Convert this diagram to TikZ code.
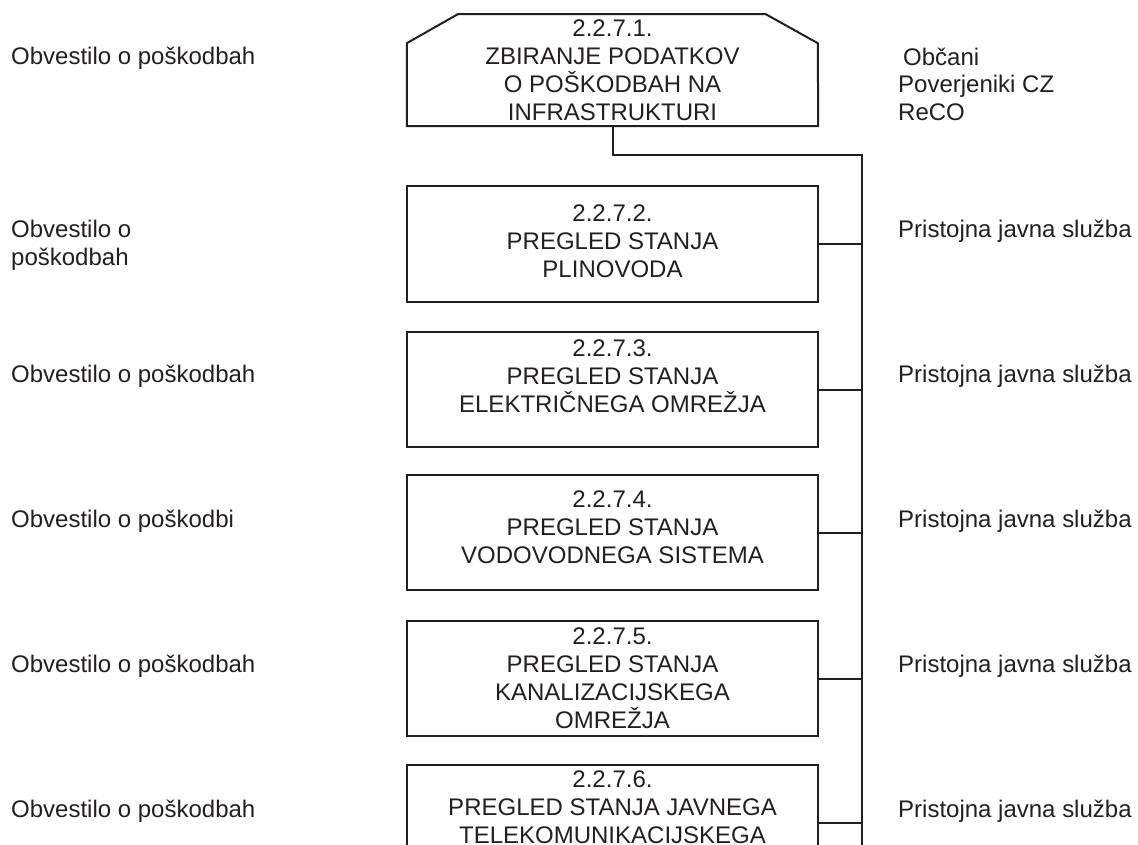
\documentclass[tikz,border=0pt]{standalone}
\usepackage{fontspec}
\setmainfont{Liberation Sans}
\definecolor{ink}{HTML}{231F20}
\begin{document}
\begin{tikzpicture}[x=1pt,y=-1pt,
  every node/.style={font=\fontsize{24}{27.8}\selectfont, text=ink},
  box/.style={draw=ink, line width=2pt, minimum width=411pt, minimum height=115pt, inner sep=0pt},
  shell/.style={minimum width=411pt, minimum height=112pt, inner sep=0pt},
  boxtext/.style={anchor=north, inner sep=0pt, align=center},
  lab/.style={anchor=base west, inner sep=0pt},
  lab2/.style={anchor=north west, inner sep=0pt, align=left},
  conn/.style={draw=ink, line width=2pt}]
\useasboundingbox (0,0) rectangle (1138,845);
\clip (0,0) rectangle (1138,845);

% boxes
\node[shell] (b1) at (612.5,70) {};
\draw[conn, line join=miter] (b1.south west) -- ++(0,-83) -- ++(51,-29) -- ++(308,0) -- ++(52,29) -- (b1.south east) -- cycle;
\node[box] (b2) at (612.5,244) {};
\node[box] (b3) at (612.5,389.5) {};
\node[box] (b4) at (612.5,532.5) {};
\node[box] (b5) at (612.5,678.5) {};
\node[box] (b6) at (612.5,822.5) {};

% box texts
\node[boxtext] (t1) at (612.5,19.8) {2.2.7.1.\\ZBIRANJE PODATKOV\\O POŠKODBAH NA\\INFRASTRUKTURI};
\node[boxtext] (t2) at (612.5,204.8) {2.2.7.2.\\PREGLED STANJA\\PLINOVODA};
\node[boxtext] (t3) at (612.5,339.8) {2.2.7.3.\\PREGLED STANJA\\ELEKTRIČNEGA OMREŽJA};
\node[boxtext] (t4) at (612.5,490.8) {2.2.7.4.\\PREGLED STANJA\\VODOVODNEGA SISTEMA};
\node[boxtext] (t5) at (612.5,627.8) {2.2.7.5.\\PREGLED STANJA\\KANALIZACIJSKEGA\\OMREŽJA};
\node[boxtext] (t6) at (612.5,770.8) {2.2.7.6.\\PREGLED STANJA JAVNEGA\\TELEKOMUNIKACIJSKEGA};

% connectors
\coordinate (jt) at (862,155);
\coordinate (je) at (862,850);
\draw[conn] (b1.south) |- (jt) -- (je);
\foreach \b in {b2,b3,b4,b5,b6} \draw[conn] (\b.east) -- (\b.east -| jt);

% left labels
\node[lab] (l1) at (11,65) {Obvestilo o poškodbah};
\node[lab2] (l2) at (11,220.4) {Obvestilo o\\poškodbah};
\node[lab] (l3) at (11,382) {Obvestilo o poškodbah};
\node[lab] (l4) at (11,527) {Obvestilo o poškodbi};
\node[lab] (l5) at (11,672) {Obvestilo o poškodbah};
\node[lab] (l6) at (11,817) {Obvestilo o poškodbah};

% right labels
\node[lab2] (r1) at (898,47.4) {\hspace*{5pt}Občani\\Poverjeniki CZ\\ReCO};
\node[lab] (r2) at (898,237) {Pristojna javna služba};
\node[lab] (r3) at (898,382) {Pristojna javna služba};
\node[lab] (r4) at (898,527) {Pristojna javna služba};
\node[lab] (r5) at (898,672) {Pristojna javna služba};
\node[lab] (r6) at (898,817) {Pristojna javna služba};
\end{tikzpicture}
\end{document}
